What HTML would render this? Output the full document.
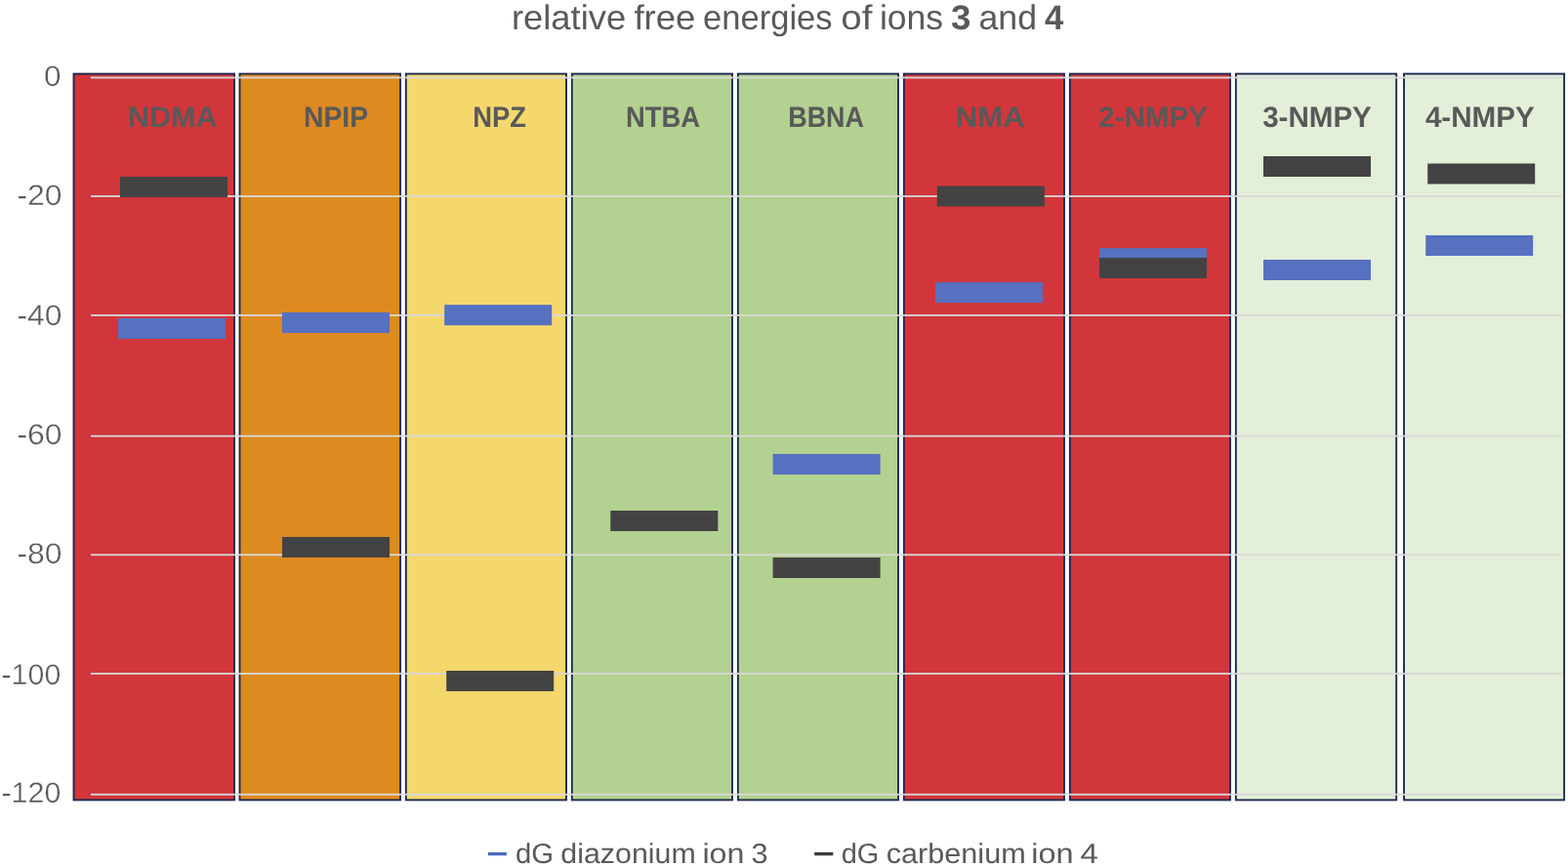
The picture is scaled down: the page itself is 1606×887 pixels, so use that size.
<!DOCTYPE html>
<html lang="en"><head><meta charset="utf-8"><title>relative free energies of ions 3 and 4</title>
<style>
html,body{margin:0;padding:0;background:#fff;}
body{width:1606px;height:887px;overflow:hidden;}
svg{display:block;}
text{font-family:"Liberation Sans",Arial,Helvetica,sans-serif;fill:#595959;text-rendering:geometricPrecision;}
.b{font-weight:bold;}
</style></head><body>
<svg width="1606" height="887" viewBox="0 0 1606 887" role="img" aria-label="relative free energies of ions 3 and 4">
<rect x="0" y="0" width="1606" height="887" fill="#ffffff"/>
<g id="plot-bands" stroke="#1e2a52" stroke-width="1.9">
<rect x="75.50" y="75.60" width="164.50" height="743.80" fill="#d1363b"/>
<rect x="245.50" y="75.60" width="164.50" height="743.80" fill="#dd8a21"/>
<rect x="415.80" y="75.60" width="164.20" height="743.80" fill="#f5d86c"/>
<rect x="585.80" y="75.60" width="164.20" height="743.80" fill="#b3d190"/>
<rect x="755.85" y="75.60" width="164.15" height="743.80" fill="#b3d190"/>
<rect x="925.85" y="75.60" width="164.15" height="743.80" fill="#d1363b"/>
<rect x="1095.85" y="75.60" width="164.15" height="743.80" fill="#d1363b"/>
<rect x="1265.85" y="75.60" width="164.35" height="743.80" fill="#e3efd8"/>
<rect x="1438.00" y="75.60" width="164.10" height="743.80" fill="#e3efd8"/>
</g>
<g id="gridlines" fill="#d9d9d9">
<rect x="93.00" y="78.60" width="1506.30" height="1.8"/>
<rect x="93.00" y="200.10" width="1506.30" height="1.8"/>
<rect x="93.00" y="322.05" width="1506.30" height="1.8"/>
<rect x="93.00" y="445.75" width="1506.30" height="1.8"/>
<rect x="93.00" y="567.40" width="1506.30" height="1.8"/>
<rect x="93.00" y="689.10" width="1506.30" height="1.8"/>
<rect x="93.00" y="812.85" width="1506.30" height="1.8"/>
</g>
<g id="series-diazonium" fill="#5571c0">
<rect x="121.00" y="326.00" width="110" height="21"/>
<rect x="289.00" y="320.00" width="110" height="21"/>
<rect x="455.20" y="312.20" width="110" height="21"/>
<rect x="791.60" y="465.00" width="110" height="21"/>
<rect x="958.00" y="289.10" width="110" height="21"/>
<rect x="1126.00" y="254.20" width="110" height="21"/>
<rect x="1294.00" y="266.00" width="110" height="21"/>
<rect x="1460.20" y="241.00" width="110" height="21"/>
</g>
<g id="series-carbenium" fill="#434343">
<rect x="123.00" y="181.00" width="110" height="21"/>
<rect x="289.00" y="550.00" width="110" height="21"/>
<rect x="457.20" y="687.00" width="110" height="21"/>
<rect x="625.30" y="523.00" width="110" height="21"/>
<rect x="791.60" y="571.00" width="110" height="21"/>
<rect x="959.80" y="190.50" width="110" height="21"/>
<rect x="1126.00" y="264.00" width="110" height="21"/>
<rect x="1294.00" y="160.00" width="110" height="21"/>
<rect x="1462.20" y="167.50" width="110" height="21"/>
</g>
<g id="chart-title" font-size="35.4">
<text><tspan x="523.97" y="29.90" textLength="117.15" lengthAdjust="spacingAndGlyphs">relative</tspan> <tspan x="649.43" y="29.90" textLength="62.95" lengthAdjust="spacingAndGlyphs">free</tspan> <tspan x="720.11" y="29.90" textLength="132.46" lengthAdjust="spacingAndGlyphs">energies</tspan> <tspan x="861.30" y="29.90" textLength="32.15" lengthAdjust="spacingAndGlyphs">of</tspan> <tspan x="900.93" y="29.90" textLength="65.24" lengthAdjust="spacingAndGlyphs">ions</tspan> <tspan class="b" x="974.12" y="29.90" textLength="20.47" lengthAdjust="spacingAndGlyphs">3</tspan> <tspan x="1002.45" y="29.90" textLength="59.61" lengthAdjust="spacingAndGlyphs">and</tspan> <tspan class="b" x="1069.98" y="29.90" textLength="19.31" lengthAdjust="spacingAndGlyphs">4</tspan></text>
</g>
<g id="value-axis" font-size="29.7" stroke="#ffffff" stroke-linejoin="round" stroke-width="0.3">
<text><tspan x="44.96" y="87.90" textLength="17.59" lengthAdjust="spacingAndGlyphs">0</tspan></text>
<text><tspan x="17.45" y="209.90" textLength="46.14" lengthAdjust="spacingAndGlyphs">-20</tspan></text>
<text><tspan x="17.45" y="333.10" textLength="46.14" lengthAdjust="spacingAndGlyphs">-40</tspan></text>
<text><tspan x="17.45" y="455.10" textLength="46.14" lengthAdjust="spacingAndGlyphs">-60</tspan></text>
<text><tspan x="17.45" y="576.90" textLength="46.14" lengthAdjust="spacingAndGlyphs">-80</tspan></text>
<text><tspan x="1.51" y="700.60" textLength="60.84" lengthAdjust="spacingAndGlyphs">-100</tspan></text>
<text><tspan x="1.51" y="822.10" textLength="60.84" lengthAdjust="spacingAndGlyphs">-120</tspan></text>
</g>
<g id="category-labels" class="b" font-size="29.9">
<text><tspan x="130.92" y="130.00" textLength="91.64" lengthAdjust="spacingAndGlyphs">NDMA</tspan></text>
<text><tspan x="310.91" y="130.00" textLength="66.16" lengthAdjust="spacingAndGlyphs">NPIP</tspan></text>
<text><tspan x="484.22" y="130.00" textLength="54.78" lengthAdjust="spacingAndGlyphs">NPZ</tspan></text>
<text><tspan x="640.90" y="130.00" textLength="76.13" lengthAdjust="spacingAndGlyphs">NTBA</tspan></text>
<text><tspan x="807.31" y="130.00" textLength="77.63" lengthAdjust="spacingAndGlyphs">BBNA</tspan></text>
<text><tspan x="978.82" y="130.00" textLength="70.76" lengthAdjust="spacingAndGlyphs">NMA</tspan></text>
<text><tspan x="1125.24" y="130.00" textLength="111.70" lengthAdjust="spacingAndGlyphs">2-NMPY</tspan></text>
<text><tspan x="1293.14" y="130.00" textLength="111.71" lengthAdjust="spacingAndGlyphs">3-NMPY</tspan></text>
<text><tspan x="1459.89" y="130.00" textLength="111.89" lengthAdjust="spacingAndGlyphs">4-NMPY</tspan></text>
</g>
<g id="legend" font-size="28.8">
<rect x="499.9" y="872.9" width="19" height="3.4" fill="#4d6abe"/>
<text><tspan x="528.05" y="883.80" textLength="39.07" lengthAdjust="spacingAndGlyphs">dG</tspan> <tspan x="574.36" y="883.80" textLength="138.31" lengthAdjust="spacingAndGlyphs">diazonium</tspan> <tspan x="719.41" y="883.80" textLength="42.98" lengthAdjust="spacingAndGlyphs">ion</tspan> <tspan x="769.40" y="883.80" textLength="17.09" lengthAdjust="spacingAndGlyphs">3</tspan></text>
<rect x="834.2" y="872.9" width="19.1" height="3.4" fill="#3a3a3a"/>
<text><tspan x="861.75" y="883.80" textLength="38.66" lengthAdjust="spacingAndGlyphs">dG</tspan> <tspan x="907.73" y="883.80" textLength="142.94" lengthAdjust="spacingAndGlyphs">carbenium</tspan> <tspan x="1056.18" y="883.80" textLength="43.30" lengthAdjust="spacingAndGlyphs">ion</tspan> <tspan x="1106.64" y="883.80" textLength="18.25" lengthAdjust="spacingAndGlyphs">4</tspan></text>
</g>
</svg>
</body></html>
